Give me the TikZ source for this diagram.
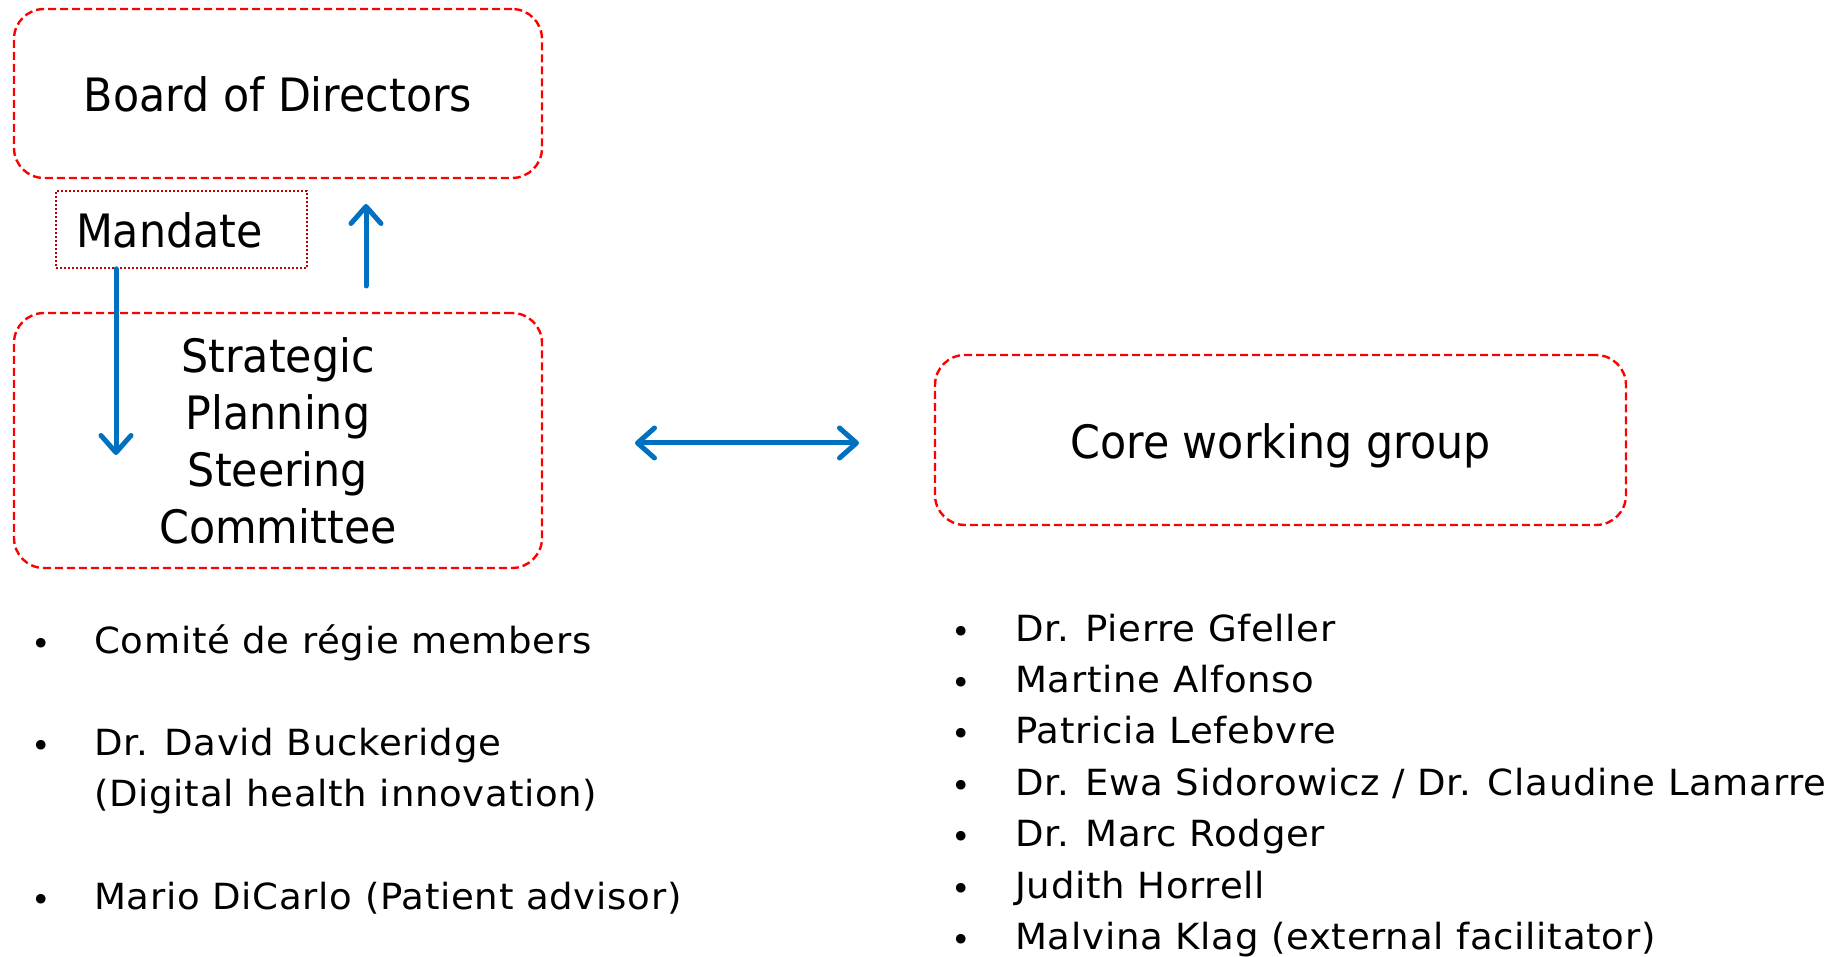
\documentclass[tikz,border=0pt]{standalone}
\usepackage{fontspec}
\setmainfont{DejaVu Sans}
\newfontfamily\boxfont{DejaVu Sans}[FakeStretch=0.93]
\newfontfamily\listfont{DejaVu Sans}[FakeStretch=1.03, LetterSpace=2]
\usetikzlibrary{arrows.meta}
\definecolor{boxred}{HTML}{FF0000}
\definecolor{mandred}{HTML}{C00000}
\definecolor{arrblue}{HTML}{0070C0}
\tikzset{
  redbox/.style={draw=boxred, line width=2.4pt, dash pattern=on 8pt off 4pt, rounded corners=30pt, inner sep=0pt, align=center, font=\boxfont\fontsize{46}{57}\selectfont},
  oneline/.style={text height=42pt, text depth=5pt},
  mandbox/.style={draw=mandred, line width=1.6pt, dash pattern=on 2pt off 2pt, inner ysep=0pt, inner xsep=20pt, text width=211pt, align=left, text height=42pt, text depth=5pt, font=\boxfont\fontsize{46}{57}\selectfont},
  bluearrow/.style={draw=arrblue, line width=5pt, line cap=round, -{Straight Barb[length=17pt, width=30pt, line cap=round, line join=round]}},
  bluedbl/.style={draw=arrblue, line width=5pt, line cap=round, {Straight Barb[length=17pt, width=30pt, line cap=round, line join=round]}-{Straight Barb[length=17pt, width=30pt, line cap=round, line join=round]}},
  bul/.style={anchor=center, inner sep=0pt, font=\fontsize{33}{40}\selectfont},
  item/.style={anchor=west, inner sep=0pt, text height=25pt, text depth=8pt, font=\listfont\fontsize{36}{40}\selectfont},
}
\begin{document}
\begin{tikzpicture}[x=1pt, y=-1pt]
\useasboundingbox (0,0) rectangle (1837,957);
% boxes
\node[redbox, oneline, minimum width=528pt, minimum height=169pt] (board) at (278,93.5) {Board of Directors};
\node[redbox, minimum width=528pt, minimum height=255pt] (spsc) at (278,440.5) {Strategic\\Planning\\Steering\\Committee};
\node[mandbox, minimum height=77pt] (mandate) at (181.5,229.5) {Mandate};
\node[redbox, oneline, minimum width=691pt, minimum height=170pt] (core) at (1280.5,440) {Core working group};
% arrows
\coordinate (downend) at (116,455);
\coordinate (upstart) at (366,286);
\coordinate (upend) at (366,204);
\coordinate (dblL) at (635,443);
\coordinate (dblR) at (859,443);
\draw[bluearrow] (mandate.south -| downend) -- (downend);
\draw[bluearrow] (upstart) -- (upend);
\draw[bluedbl] (dblL) -- (dblR);
% left list
\node[bul] (lb1) at (41,647) {•};
\node[item] (l1) at (94,645) {Comité de régie members};
\node[bul] (lb2) at (41,749) {•};
\node[item] (l2) at (94,747) {Dr. David Buckeridge};
\node[item] (l2b) at (94,798) {(Digital health innovation)};
\node[bul] (lb3) at (41,903) {•};
\node[item] (l3) at (94,901) {Mario DiCarlo (Patient advisor)};
% right list
\foreach \i/\y/\t in {1/633/{Dr. Pierre Gfeller},2/684/{Martine Alfonso},3/735/{Patricia Lefebvre},4/787/{Dr. Ewa Sidorowicz / Dr. Claudine Lamarre},5/838/{Dr. Marc Rodger},6/890/{Judith Horrell},7/941/{Malvina Klag (external facilitator)}}{
  \node[bul] (rb\i) at (961,\y+2) {•};
  \node[item] (r\i) at (1015,\y) {\t};
}
\end{tikzpicture}
\end{document}
